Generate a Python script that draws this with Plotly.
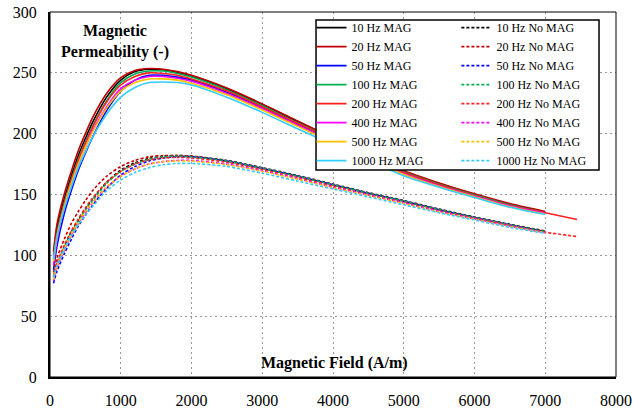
import plotly.graph_objects as go

# ---------------- data ----------------
freqs = ["10 Hz", "20 Hz", "50 Hz", "100 Hz", "200 Hz", "400 Hz", "500 Hz", "1000 Hz"]
colors = ["#000000", "#C00000", "#0000FF", "#00B050", "#FF2020", "#FF00FF", "#FFC000", "#33CCFF"]

field = [50, 100, 200, 300, 400, 500, 600, 800, 1000, 1200, 1400, 1600, 1800, 2000,
         2500, 3000, 3500, 4000, 4500, 5000, 5500, 6000, 6500, 7000]
field_200 = field + [7450]

mag_10 = [100, 122, 146, 165, 182, 196, 209, 230, 244, 251, 253, 252.5, 250.5, 247.5,
          237, 224, 210, 196, 182, 169, 159, 150, 142, 135.5]
mag_20 = [103, 126, 150, 169, 186, 200, 213, 233, 246, 252, 253.5, 253, 251, 248,
          237.5, 224.5, 210.5, 196.5, 182.5, 169.5, 159.5, 150.5, 142.5, 136]
mag_50 = [88, 108, 134, 153, 170, 184, 197, 219, 235, 244, 248, 248, 246.5, 244,
          234, 221.5, 208, 194.5, 181, 168, 158, 149, 141, 134.5]
mag_100 = [97, 118, 143, 162, 179, 193, 206, 227, 242, 249, 251.5, 251.5, 249.5, 246.5,
           236, 223, 209, 195.5, 181.5, 168.5, 158.5, 149.5, 141.5, 135]
mag_200 = [96, 117, 142, 161, 178, 192, 205, 226, 240, 247, 250, 249.5, 248, 245,
           235, 222, 208.5, 195, 181, 168, 158, 149, 141, 135, 129.5]
mag_400 = [92, 113, 139, 158, 175, 189, 202, 222, 237, 244, 247, 247, 245.5, 243,
           233, 220.5, 207, 193.5, 180, 167, 157, 148.5, 140.5, 134.5]
mag_500 = [95, 116, 140, 159, 175, 189, 201, 221, 235, 242, 245, 245, 244, 241.5,
           232, 219.5, 206, 192.5, 179, 166.5, 156.5, 148, 140, 134]
mag_1000 = [97, 115, 138, 156, 172, 185, 197, 216, 230, 238, 242, 242.5, 242, 240,
            230, 217.5, 204, 191, 178, 165.5, 156, 147.5, 139.5, 133.5]

nomag_10 = [82, 93, 107, 119, 129, 138, 146, 160, 170, 176, 179.5, 181.5, 182, 181.5,
            178, 172, 165.5, 158.5, 151.5, 145, 138, 131.5, 125.5, 120]
nomag_20 = [86, 98, 113, 126, 136, 145, 153, 165, 173, 178, 181, 182, 182, 181.5,
            177.5, 171.5, 165, 158, 151, 144.5, 137.5, 131, 125, 119.5]
nomag_50 = [77, 87, 101, 113, 124, 133, 141, 155, 166, 173, 177.5, 180, 181, 181,
            177.5, 171.5, 165, 158, 151, 144.5, 137.5, 131, 125, 119.5]
nomag_100 = [81, 92, 106, 118, 128, 137, 145, 159, 169, 175, 179, 181, 181.5, 181,
             177.5, 171.5, 165, 158, 151, 144.5, 137.5, 131, 125, 119.5]
nomag_200 = [83, 94, 108, 120, 130, 139, 147, 160, 169, 175, 178.5, 180, 180.5, 180,
             176.5, 170.5, 164, 157, 150, 143.5, 136.5, 130.5, 124.5, 119, 115.5]
nomag_400 = [79, 90, 104, 116, 126, 135, 143, 156, 165, 171, 175, 177, 178, 178,
             175, 169.5, 163, 156, 149.5, 143, 136, 130, 124, 118.5]
nomag_500 = [80, 91, 105, 117, 127, 136, 143, 156, 165, 171, 175, 177, 177.5, 177.5,
             174.5, 169, 162.5, 155.5, 149, 142.5, 135.5, 129.5, 123.5, 118.5]
nomag_1000 = [82, 92, 105, 116, 125, 133, 140, 153, 162, 168, 172, 174.5, 175.5, 175.5,
              173, 167.5, 161, 154.5, 148, 141.5, 135, 129, 123, 118]

mag_series = [mag_10, mag_20, mag_50, mag_100, mag_200, mag_400, mag_500, mag_1000]
nomag_series = [nomag_10, nomag_20, nomag_50, nomag_100, nomag_200, nomag_400, nomag_500, nomag_1000]

x_ticks = [0, 1000, 2000, 3000, 4000, 5000, 6000, 7000, 8000]
y_ticks = [0, 50, 100, 150, 200, 250, 300]

FONT = "Liberation Serif, Times New Roman, serif"

fig = go.Figure()

for f, c, ys in zip(freqs, colors, mag_series):
    xs = field_200 if len(ys) == len(field_200) else field
    fig.add_trace(go.Scatter(x=xs, y=ys, mode="lines", name=f + " MAG",
                             line=dict(color=c, width=1.6, shape="spline", smoothing=0.8),
                             legend="legend"))

for f, c, ys in zip(freqs, colors, nomag_series):
    xs = field_200 if len(ys) == len(field_200) else field
    fig.add_trace(go.Scatter(x=xs, y=ys, mode="lines", name=f + " No MAG",
                             line=dict(color=c, width=1.6, dash="3px,2px", shape="spline", smoothing=0.8),
                             legend="legend2"))

axis_common = dict(showgrid=True, gridcolor="#9a9a9a", griddash="2px,3px", gridwidth=1,
                   zeroline=False, showline=True, linecolor="black", linewidth=2,
                   automargin=False,
                   ticks="", tickfont=dict(family=FONT, size=16, color="black"))

legend_common = dict(xanchor="left", yanchor="top", bgcolor="rgba(0,0,0,0)",
                     borderwidth=0, font=dict(family=FONT, size=12, color="black"), itemwidth=30)

fig.update_layout(
    width=633, height=409,
    margin=dict(l=50, r=17, t=12, b=32, autoexpand=False),
    paper_bgcolor="white", plot_bgcolor="white",
    font=dict(family=FONT, size=12, color="black"),
    xaxis=dict(range=[0, 8000], tickvals=x_ticks, ticklabelstandoff=8, **axis_common),
    yaxis=dict(range=[0, 300], tickvals=y_ticks, ticklabelstandoff=8, **axis_common),
    showlegend=True,
    legend=dict(x=0.462, y=0.997, **legend_common),
    legend2=dict(x=0.718, y=0.997, **legend_common),
    shapes=[
        dict(type="rect", xref="paper", yref="paper", x0=0, x1=1, y0=0, y1=1,
             line=dict(color="black", width=1), layer="above"),
        dict(type="rect", xref="paper", yref="paper", x0=0.47, x1=0.97, y0=0.567, y1=0.978,
             line=dict(color="black", width=1.5), fillcolor="white", layer="above"),
    ],
    annotations=[
        dict(text="<b>Magnetic<br>Permeability (-)</b>", xref="paper", yref="paper",
             x=0.115, y=0.919, xanchor="center", yanchor="middle", showarrow=False,
             font=dict(family=FONT, size=16, color="black")),
        dict(text="<b>Magnetic Field (A/m)</b>", xref="paper", yref="paper",
             x=0.502, y=0.038, xanchor="center", yanchor="middle", showarrow=False,
             font=dict(family=FONT, size=16, color="black")),
    ],
)

fig.write_html("out.html")
